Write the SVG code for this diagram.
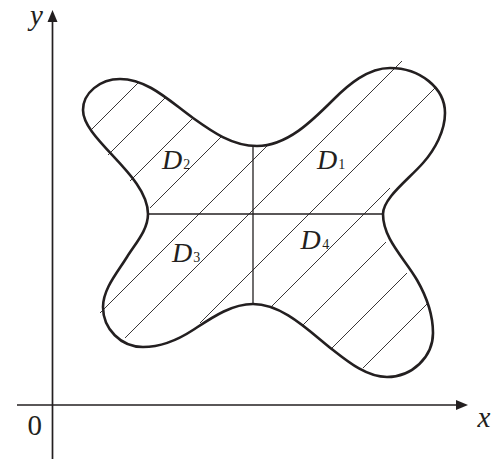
<svg xmlns="http://www.w3.org/2000/svg" width="501" height="459" viewBox="0 0 501 459">
<style>
.axis{stroke:#231f20;stroke-width:1.7;fill:none}
.head{fill:#231f20;stroke:none}
.outline{stroke:#231f20;stroke-width:2.6;fill:none;stroke-linejoin:round}
.hatch{stroke:#231f20;stroke-width:0.9;fill:none}
.cross{stroke:#231f20;stroke-width:1.3;fill:none}
.ax{font-family:"Liberation Serif","Times New Roman",serif;font-size:29px;fill:#231f20}
.it{font-style:italic}
.lbl{font-family:"Liberation Serif","Times New Roman",serif;font-size:28px;font-style:italic;fill:#231f20}
.sub{font-size:14px;font-style:normal}
</style>
<rect width="501" height="459" fill="#ffffff"/>
<g id="axes">
<line class="axis" x1="52.5" y1="459" x2="52.5" y2="20"/>
<polygon class="head" points="52.5,10 47.5,22 57.5,22"/>
<line class="axis" x1="17" y1="405" x2="458" y2="405"/>
<polygon class="head" points="468,405 456,400 456,410"/>
<text class="ax it" x="30" y="25">y</text>
<text class="ax it" x="477.5" y="427">x</text>
<text class="ax" x="27.6" y="435">0</text>
</g>
<g id="hatching">
<line class="hatch" x1="90" y1="131" x2="139" y2="82"/>
<line class="hatch" x1="108" y1="155" x2="165" y2="98"/>
<line class="hatch" x1="130" y1="181" x2="192" y2="119"/>
<line class="hatch" x1="150" y1="208" x2="222" y2="136"/>
<line class="hatch" x1="100" y1="313" x2="267" y2="146"/>
<line class="hatch" x1="125" y1="338" x2="402" y2="61"/>
<line class="hatch" x1="200" y1="323" x2="435" y2="88"/>
<line class="hatch" x1="272" y1="306" x2="390" y2="188"/>
<line class="hatch" x1="303" y1="325" x2="386" y2="242"/>
<line class="hatch" x1="332" y1="348" x2="407" y2="273"/>
<line class="hatch" x1="363" y1="368" x2="427" y2="304"/>
</g>
<g id="cross">
<line class="cross" x1="149" y1="214" x2="383" y2="214"/>
<line class="cross" x1="253" y1="146" x2="253" y2="304"/>
</g>
<g id="region">
<path class="outline" d="M148,214 C148,175 83,140 83,110 C83,93 100,79 120,79 C148,79 170.3,101.8 193,118 C211.6,131.3 232,146 257,146 C287,146 312,121 333,100 C348.5,84.5 368,68 390,68 C420,68 445,88 445,113 C445,131 434.9,149.5 423,163 C408.5,179.5 383,198 383,214 C383,239 404.5,258.3 417,280 C426,295.7 433,315 433,333 C433,357 412,377 387,377 C367,377 348.8,362.4 333,350 C309.3,331.4 283,304 253,304 C231,304 211.5,317.9 193,330 C177.9,339.9 161,347 143,347 C121,347 103,329 103,307 C103,289 117.5,272.3 127,257 C135.5,243.4 148,230 148,214 Z"/>
</g>
<g id="labels">
<text class="lbl" x="162" y="168.5">D<tspan class="sub" x="183.3">2</tspan></text>
<text class="lbl" x="317" y="168.5">D<tspan class="sub" x="338.3">1</tspan></text>
<text class="lbl" x="172" y="262.3">D<tspan class="sub" x="193.3">3</tspan></text>
<text class="lbl" x="300.5" y="249">D<tspan class="sub" x="322.3">4</tspan></text>
</g>
</svg>
